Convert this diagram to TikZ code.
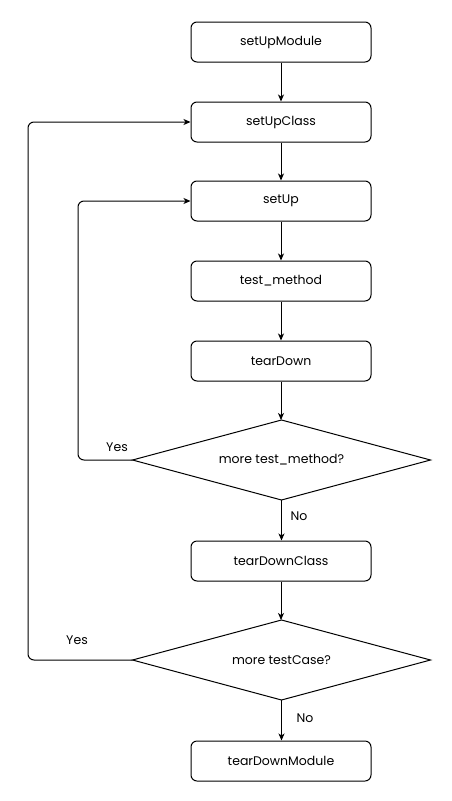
\documentclass[tikz,border=0pt]{standalone}
\usepackage{fontspec}
\setmainfont{Poppins}
\usetikzlibrary{arrows.meta}
\begin{document}
\begin{tikzpicture}[x=1pt,y=-1pt,line width=1pt,
  stepbox/.style={draw,rounded corners=6pt,minimum width=180pt,minimum height=40pt,font=\fontsize{12.5}{14}\selectfont,inner sep=0pt},
  arr/.style={-{Stealth[length=7pt,width=6pt,inset=2pt]}},
  lbl/.style={font=\fontsize{12.5}{14}\selectfont}]
\useasboundingbox (0,0) rectangle (452,801);
\node[stepbox] (m) at (281,42) {setUpModule};
\node[stepbox] (c) at (281,122) {setUpClass};
\node[stepbox] (s) at (281,201) {setUp};
\node[stepbox] (t) at (281,281) {test\_method};
\node[stepbox] (d) at (281,361) {tearDown};
\coordinate (q1) at (281.5,460);
\coordinate (q2) at (281.5,660);
\draw (q1)+(0,-40) coordinate (q1t) -- ++(149,0) coordinate (q1r) -- ++(-149,40) coordinate (q1b) -- ++(-149,-40) coordinate (q1l) -- cycle;
\node[lbl] (q1txt) at (q1) {more test\_method?};
\node[stepbox] (dc) at (281,561) {tearDownClass};
\draw (q2)+(0,-40) coordinate (q2t) -- ++(149,0) coordinate (q2r) -- ++(-149,40) coordinate (q2b) -- ++(-149,-40) coordinate (q2l) -- cycle;
\node[lbl] (q2txt) at (q2) {more testCase?};
\node[stepbox] (dm) at (281,761) {tearDownModule};

\draw[arr] (m) -- (c);
\draw[arr] (c) -- (s);
\draw[arr] (s) -- (t);
\draw[arr] (t) -- (d);
\draw[arr] (d.south) -- (d.south|-q1t);
\draw[arr] (q1b) -- (q1b|-dc.north);
\draw[arr] (dc.south) -- (dc.south|-q2t);
\draw[arr] (q2b) -- (q2b|-dm.north);
\draw[arr,rounded corners=6pt] (q1l) -| (78,201) -- (s.west);
\draw[arr,rounded corners=6pt] (q2l) -| (28,122) -- (c.west);
\node[lbl] (y1) at (117,447) {Yes};
\node[lbl] (n1) at (299,516) {No};
\node[lbl] (y2) at (77,640) {Yes};
\node[lbl] (n2) at (305,718) {No};
\end{tikzpicture}
\end{document}
